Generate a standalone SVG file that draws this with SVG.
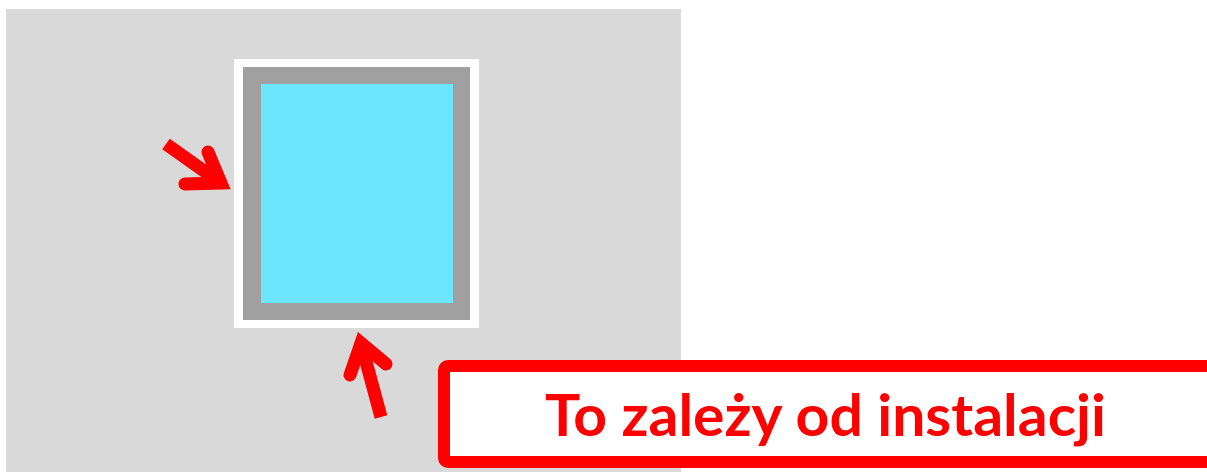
<svg xmlns="http://www.w3.org/2000/svg" width="1207" height="472" viewBox="0 0 1207 472">
<style>
.shaft{fill:none;stroke:#FF0000;stroke-width:13;stroke-linecap:butt}
.head{fill:none;stroke:#FF0000;stroke-width:13;stroke-linecap:round;stroke-linejoin:miter;stroke-miterlimit:6}
.label{font-family:"Lato","Liberation Sans",sans-serif;font-weight:bold;font-size:58px;fill:#FF0000}
</style>
<rect width="1207" height="472" fill="#FFFFFF"/>
<rect id="background" x="6" y="9" width="675" height="463" fill="#D9D9D9"/>
<g id="window">
<rect x="234" y="59" width="245" height="269" fill="#FFFFFF"/>
<rect x="243" y="67" width="227" height="253" fill="#A0A0A0"/>
<rect x="261" y="84" width="192" height="219" fill="#6CE5FF"/>
</g>
<g id="connectors">
<g id="arrow-left">
<line x1="166" y1="144" x2="221" y2="183" class="shaft"/>
<polyline points="208,152 221,183 185,184" class="head"/>
</g>
<g id="arrow-bottom">
<line x1="381" y1="417" x2="361" y2="343" class="shaft"/>
<polyline points="350,375 361,343 386,364" class="head"/>
</g>
</g>
<g id="note">
<rect x="444" y="366" width="772" height="96" rx="4" fill="#FFFFFF" stroke="#FF0000" stroke-width="12"/>
<text x="825.5" y="436" text-anchor="middle" class="label" textLength="561" lengthAdjust="spacingAndGlyphs">To zależy od instalacji</text>
</g>
</svg>
